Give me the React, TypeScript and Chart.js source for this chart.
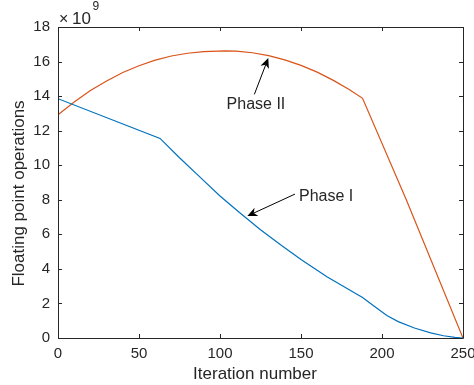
import React, { useEffect, useRef } from "react";
import { Chart, registerables } from "chart.js";

Chart.register(...registerables);

// Data (y values in units of 10^9 floating point operations)
const phase1Iterations = [0, 63, 75, 88, 100, 112, 125, 138, 150, 166, 175, 188, 195, 203, 210, 220, 230, 238, 245, 250];
const phase1Flops = [13.85, 11.55, 10.43, 9.28, 8.22, 7.26, 6.27, 5.35, 4.55, 3.55, 3.05, 2.34, 1.85, 1.3, 0.95, 0.58, 0.3, 0.13, 0.04, 0];

const phase2Iterations = [0, 10, 20, 30, 40, 50, 60, 70, 80, 90, 103, 110, 120, 130, 140, 150, 160, 170, 180, 188, 215, 250];
const phase2Flops = [12.92, 13.66, 14.32, 14.88, 15.37, 15.76, 16.08, 16.32, 16.48, 16.58, 16.62, 16.6, 16.51, 16.34, 16.1, 15.78, 15.39, 14.91, 14.37, 13.87, 8.0, 0];

const xTicks = [0, 50, 100, 150, 200, 250];
const yTicks = [0, 2, 4, 6, 8, 10, 12, 14, 16, 18];

const xTitle = "Iteration number";
const yTitle = "Floating point operations";
const exponentTimes = "\u00d7";
const exponentBase = "10";
const exponentPower = "9";

// Annotations: label, text anchor (data coords), arrow tail, arrow tip
const annotationLabels = ["Phase II", "Phase I"];
const annotationTextAt = [[122.2, 13.5], [165.5, 8.18]];
const annotationTail = [[121.2, 14.1], [146.3, 8.33]];
const annotationTip = [[129.8, 16.2], [116.9, 7.06]];

const FONT = "'Liberation Sans', Arial, Helvetica, sans-serif";
const TEXT = "#262626";

function drawArrow(ctx: CanvasRenderingContext2D, x0: number, y0: number, x1: number, y1: number) {
  const dx = x1 - x0, dy = y1 - y0;
  const len = Math.hypot(dx, dy);
  const ux = dx / len, uy = dy / len;
  const nx = -uy, ny = ux;
  const L = 10, W = 4.5, N = 7;
  ctx.save();
  ctx.strokeStyle = "#000";
  ctx.fillStyle = "#000";
  ctx.lineWidth = 1;
  ctx.beginPath();
  ctx.moveTo(x0, y0);
  ctx.lineTo(x1 - ux * N, y1 - uy * N);
  ctx.stroke();
  ctx.beginPath();
  ctx.moveTo(x1, y1);
  ctx.lineTo(x1 - ux * L + nx * W, y1 - uy * L + ny * W);
  ctx.lineTo(x1 - ux * N, y1 - uy * N);
  ctx.lineTo(x1 - ux * L - nx * W, y1 - uy * L - ny * W);
  ctx.closePath();
  ctx.fill();
  ctx.restore();
}

const framePlugin = {
  id: "matlabFrame",
  afterDatasetsDraw(chart: any) {
    const { ctx, chartArea: a, scales } = chart;
    const xs = scales.x, ys = scales.y;
    ctx.save();
    // box
    ctx.strokeStyle = TEXT;
    ctx.lineWidth = 1;
    ctx.beginPath();
    ctx.rect(Math.round(a.left) + 0.5, Math.round(a.top) + 0.5, Math.round(a.right - a.left), Math.round(a.bottom - a.top));
    ctx.stroke();
    // inward ticks
    const tl = 4;
    ctx.beginPath();
    for (const v of xTicks) {
      const px = Math.round(xs.getPixelForValue(v)) + 0.5;
      ctx.moveTo(px, a.bottom); ctx.lineTo(px, a.bottom - tl);
      ctx.moveTo(px, a.top); ctx.lineTo(px, a.top + tl);
    }
    for (const v of yTicks) {
      const py = Math.round(ys.getPixelForValue(v)) + 0.5;
      ctx.moveTo(a.left, py); ctx.lineTo(a.left + tl, py);
      ctx.moveTo(a.right, py); ctx.lineTo(a.right - tl, py);
    }
    ctx.stroke();

    // exponent label
    ctx.fillStyle = TEXT;
    ctx.textAlign = "left";
    ctx.textBaseline = "alphabetic";
    ctx.font = `16px ${FONT}`;
    ctx.fillText(exponentTimes, a.left + 1, a.top - 3);
    ctx.font = `17px ${FONT}`;
    const bx = a.left + 14;
    ctx.fillText(exponentBase, bx, a.top - 3);
    const w = ctx.measureText(exponentBase).width;
    ctx.font = `12px ${FONT}`;
    ctx.fillText(exponentPower, bx + w + 1.5, a.top - 17);

    // axis titles
    ctx.font = `17px ${FONT}`;
    ctx.textAlign = "center";
    ctx.textBaseline = "middle";
    ctx.fillText(xTitle, 255, 374);
    ctx.save();
    ctx.translate(19, 193.5);
    ctx.rotate(-Math.PI / 2);
    ctx.fillText(yTitle, 0, 0);
    ctx.restore();

    // annotations
    ctx.font = `16px ${FONT}`;
    ctx.fillStyle = TEXT;
    annotationLabels.forEach((lab, i) => {
      const [tx, ty] = annotationTextAt[i];
      ctx.fillText(lab, xs.getPixelForValue(tx), ys.getPixelForValue(ty));
      const [ax, ay] = annotationTail[i];
      const [tx2, ty2] = annotationTip[i];
      drawArrow(ctx, xs.getPixelForValue(ax), ys.getPixelForValue(ay), xs.getPixelForValue(tx2), ys.getPixelForValue(ty2));
    });
    ctx.restore();
  },
};

export default function App() {
  const canvasRef = useRef<HTMLCanvasElement | null>(null);
  useEffect(() => {
    if (!canvasRef.current) return;
    const chart = new Chart(canvasRef.current, {
      type: "line",
      data: {
        datasets: [
          {
            label: "Phase I",
            data: phase1Iterations.map((x, i) => ({ x, y: phase1Flops[i] })),
            borderColor: "#0072BD",
            borderWidth: 1.2,
            pointRadius: 0,
            tension: 0,
            fill: false,
          },
          {
            label: "Phase II",
            data: phase2Iterations.map((x, i) => ({ x, y: phase2Flops[i] })),
            borderColor: "#D95319",
            borderWidth: 1.2,
            pointRadius: 0,
            tension: 0,
            fill: false,
          },
        ],
      },
      options: {
        animation: false,
        responsive: true,
        maintainAspectRatio: false,
        layout: { padding: { top: 27, right: 11, left: 0, bottom: 0 } },
        plugins: { legend: { display: false }, tooltip: { enabled: false }, title: { display: false } },
        scales: {
          x: {
            type: "linear",
            min: 0,
            max: 250,
            afterBuildTicks: (s: any) => { s.ticks = xTicks.map((v) => ({ value: v })); },
            grid: { display: false, drawTicks: false },
            border: { display: false },
            ticks: { padding: 7, color: TEXT, font: { family: FONT, size: 15 }, maxRotation: 0, autoSkip: false },
            afterFit: (s: any) => { s.height = 47; s.paddingLeft = 0; s.paddingRight = 0; },
          },
          y: {
            type: "linear",
            min: 0,
            max: 18,
            afterBuildTicks: (s: any) => { s.ticks = yTicks.map((v) => ({ value: v })); },
            grid: { display: false, drawTicks: false },
            border: { display: false },
            ticks: { padding: 8, color: TEXT, font: { family: FONT, size: 15 }, autoSkip: false },
            afterFit: (s: any) => { s.width = 58; s.paddingTop = 0; s.paddingBottom = 0; },
          },
        },
      },
      plugins: [framePlugin],
    });
    return () => chart.destroy();
  }, []);
  return (
    <div style={{ position: "absolute", left: 0, top: 0, width: 474, height: 385, background: "#fff" }}>
      <canvas ref={canvasRef} />
    </div>
  );
}
